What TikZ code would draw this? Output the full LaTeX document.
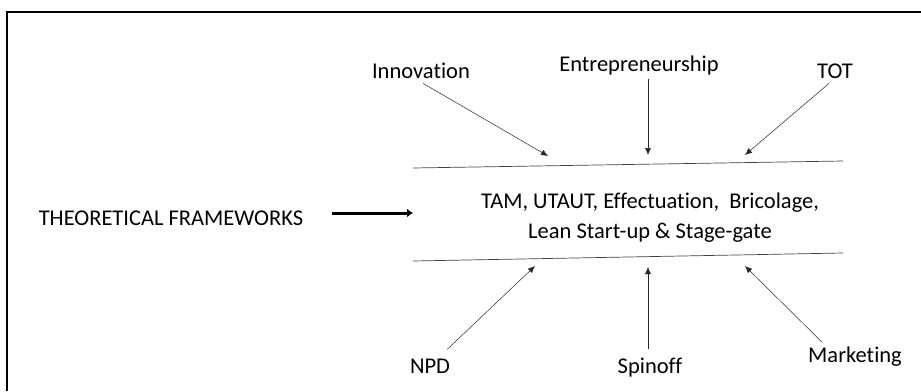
\documentclass[tikz,border=0pt]{standalone}
\usepackage{fontspec}
\setmainfont{Carlito}[Ligatures=NoCommon]
\usetikzlibrary{arrows.meta}
\begin{document}
\begin{tikzpicture}[x=1pt,y=-1pt,>={Latex[length=7pt,width=6pt]}]
        \useasboundingbox (0,0) rectangle (921,391);
        \tikzset{lbl/.style={font=\fontsize{22.5}{27}\selectfont,inner sep=1pt,anchor=base},
          thin arrow/.style={->,line width=0.5pt,black!85},
          rail/.style={line width=0.7pt,black!75}}
        % frame
        \draw[line width=2pt](7,391)--(7,11.5)--(921,11.5);
        % labels above
        \node[lbl] (innov) at(421,78) {Innovation};
        \node[lbl] (entre) at(639,71) {Entrepreneurship};
        \node[lbl] (tot) at(835,78) {TOT};
        % labels below
        \node[lbl] (npd) at(430,373) {NPD};
        \node[lbl] (spin) at(650,373) {Spinoff};
        \node[lbl] (mkt) at(855,362) {Marketing};
        \node[lbl] (theo) at(171,225) {THEORETICAL FRAMEWORKS};
        \node[lbl,anchor=center,align=center,font=\fontsize{22.5}{30}\selectfont] (frames) at(650,218)
          {TAM, UTAUT, Effectuation,~ Bricolage,\\Lean Start-up \& Stage-gate};
        % the two rails
        \draw[rail](413,168)--(843,161);
        \draw[rail](413,261)--(843,253);
        \coordinate (u1) at(548,156);
        \coordinate (u2) at(648,155);
        \coordinate (u3) at(745,155);
        \coordinate (d1) at(535,266);
        \coordinate (d2) at(648,267);
        \coordinate (d3) at(745,266);
        \draw[thin arrow]([xshift=2pt,yshift=-4pt]innov.south)--(u1);
        \draw[thin arrow]([xshift=9pt,yshift=-3pt]entre.south)--(u2);
        \draw[thin arrow]([xshift=-6pt,yshift=-4pt]tot.south)--(u3);
        \draw[thin arrow]([xshift=-4pt,yshift=8pt]npd.north east)--(d1);
        \draw[thin arrow]([xshift=-2pt,yshift=7pt]spin.north)--(d2);
        \draw[thin arrow]([xshift=-33pt,yshift=3pt]mkt.north)--(d3);
        % thick arrow
        \coordinate (ts) at(332,213);
        \coordinate (te) at(413,213);
        \draw[-{Latex[length=6pt,width=9pt]},line width=3pt](ts)--(te);
      \end{tikzpicture}
\end{document}
